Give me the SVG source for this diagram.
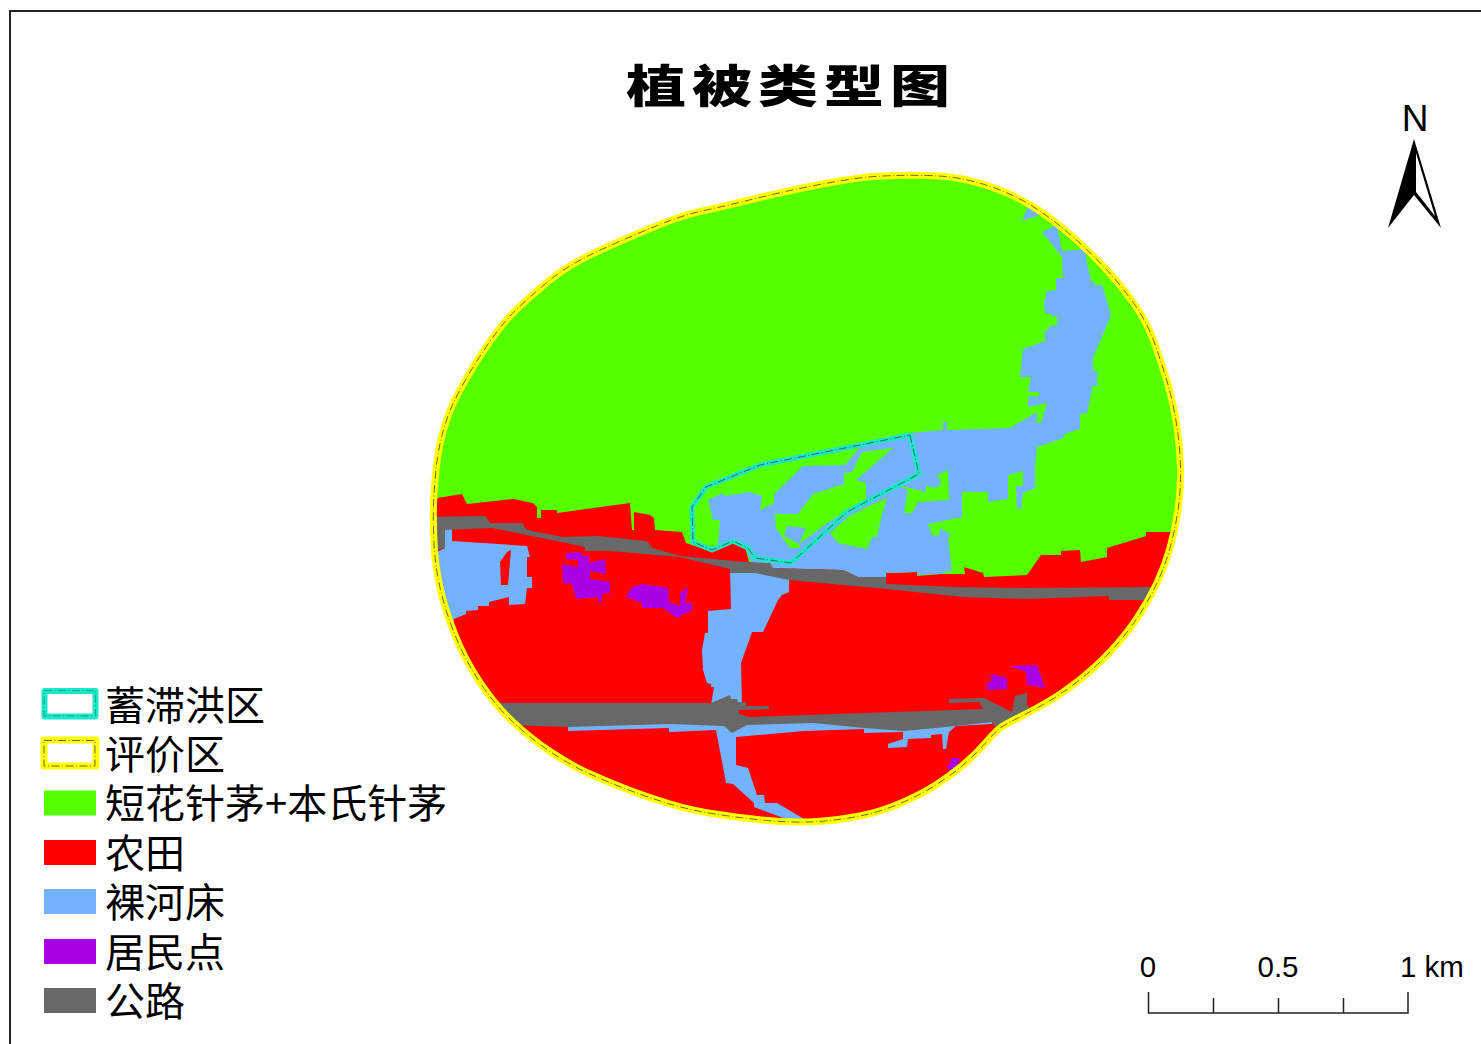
<svg xmlns="http://www.w3.org/2000/svg" width="1481" height="1044" viewBox="0 0 1481 1044">
<style>
.leg{font-family:"Noto Sans CJK SC","Noto Sans",sans-serif;font-size:40px;fill:#000}
.lat{font-family:"Liberation Sans",Arial,sans-serif;fill:#000}
.g{fill:#55ff00}.r{fill:#ff0000}.b{fill:#73b2ff}.p{fill:#a900e6}.k{fill:#686868}
.yl{fill:none;stroke:#ffff00;stroke-width:7;stroke-linejoin:round}
.cy{fill:none;stroke:#1ce8c8;stroke-width:5;stroke-linejoin:round}
.ds{fill:none;stroke:#444;stroke-width:.8;stroke-dasharray:8 2.500 1 2.500;stroke-linejoin:round}
.dl{fill:none;stroke:#0e9a84;stroke-width:.8;stroke-dasharray:8 2.500 1 2.500}
</style>
<defs>
<path id="bd" d="M882.500,176Q905,175 927.500,175.500Q950,176 967.500,180Q985,184 1002.500,191Q1020,198 1037.500,209.500Q1055,221 1072.500,236.500Q1090,252 1105,268Q1120,284 1133.500,303Q1147,322 1154.500,343Q1162,364 1167.500,383Q1173,402 1176.500,424Q1180,446 1180.500,468Q1181,490 1178,510Q1175,530 1170,548Q1165,566 1157,583Q1149,600 1137.500,617.500Q1126,635 1110.500,651.500Q1095,668 1077.500,681.500Q1060,695 1045,703.500Q1030,712 1017,718.500Q1004,725 999.500,728.500Q995,732 985,743.500Q975,755 962.500,765.500Q950,776 935,785.500Q920,795 900,803.500Q880,812 860,816Q840,820 817.500,821.500Q795,823 767.500,820.500Q740,818 715,814Q690,810 670,804Q650,798 630,790.500Q610,783 590,774Q570,765 550,751.500Q530,738 512.500,721.500Q495,705 480,682.500Q465,660 455,635Q445,610 440,587.500Q435,565 434,542.500Q433,520 433.500,505Q434,490 436,470Q438,450 442.500,433.500Q447,417 452.500,405Q458,393 467.500,376.500Q477,360 491,340Q505,320 518.500,307.500Q532,295 545,284Q558,273 571.500,265Q585,257 601.500,249.500Q618,242 638,233.500Q658,225 673,219.500Q688,214 706.500,210Q725,206 757.500,198Q790,190 825,183.500Q860,177 882.500,176Z"/>
<clipPath id="clip"><use href="#bd"/></clipPath>
</defs>
<rect width="1481" height="1044" fill="#fff"/>
<path d="M10,1044V11H1481" fill="none" stroke="#222" stroke-width="2"/>
<g id="title"><text transform="translate(626,103) scale(1,.76)" style="font-family:'Noto Sans CJK SC',sans-serif;font-size:60px;font-weight:900;letter-spacing:6px">植被类型图</text></g>
<g id="map">
<g clip-path="url(#clip)">
<use href="#bd" class="g"/>
<polygon id="red" class="r" points="425,498 437,498 462,494 467,504 513,499 533,503 537,507 537,518 541,518 541,510 557,510 557,513 630,503 632,530 634,530 634,512 650,515 654,518 655,530 682,532 686,543 712,552 732,540 745,547 749,562 886,573 917,572 917,576 940,574 965,574 964,567 983,573 984,577 1027,575 1041,555 1061,555 1061,551 1080,550 1081,562 1107,557 1107,548 1146,536 1146,532 1190,532 1190,700 1100,850 430,850"/>
<polygon id="river" class="b" points="905,437 860,447 845,465 803,466 774,494 774,503 760,510 762,496 750,492 724,496 723,493 708,500 713,520 720,520 718,545 732,541 745,547 749,558 752,562 771,568 843,570 858,577 886,577 886,573 917,572 917,575 940,574 952,570 948,538 951,535 940,528 939,536 932,535 928,524 962,517 962,492 988,492 988,502 1008,499 1008,475 1023,471 1023,486 1016,486 1017,509 1021,509 1023,493 1035,488 1035,467 1037,447 1064,438 1064,434 1080,429 1080,414 1087,413 1093,386 1097,386 1097,371 1093,370 1093,358 1111,315 1102,285 1094,285 1094,282 1091,281 1086,258 1087,249 1062,251 1057,225 1042,232 1062,257 1063,278 1056,278 1056,290 1047,291 1044,303 1045,313 1057,317 1057,325 1049,326 1049,329 1045,330 1045,341 1023,349 1020,377 1031,377 1028,392 1039,392 1039,396 1028,397 1028,407 1047,403 1041,423 1037,423 1037,412 1010,428 947,430 947,422 943,422 943,430 910,433"/>
<polygon class="b" points="1028,207 1040,215 1022,221"/>
<polygon class="g" points="862,452 893,448 856,480 866,483 866,505 850,510 830,521 799,544 800,548 790,548 776,528 775,514 798,514 813,494 844,484 844,473 852,472"/>
<polygon class="b" points="787,526 806,528 799,544 784,536"/>
<polygon class="g" points="887,498 867,507 848,517 830,533 838,543 867,549 872,537 877,537 882,514"/>
<polygon class="g" points="898,485 926,492 926,486 937,488 941,482 937,475 948,470 949,500 918,502 912,513 904,513 908,490"/>
<polygon class="b" points="425,552 437,552 445,548 445,529 452,529 452,541 527,546 530,557 527,557 527,577 532,577 532,588 527,588 525,604 509,605 509,597 489,602 489,606 478,606 478,610 466,611 466,614 454,619 452,628 425,628"/>
<polygon class="r" points="511,550 507,552 500,562 501,585 508,585"/>
<polygon class="b" points="730,570 731,609 708,611 708,633 705,633 702,650 703,670 707,683 711,684 711,687 714,687 711,705 742,705 741,663 752,632 763,632 778,600 782,595 789,592 789,578 755,570"/>
<polygon class="b" points="568,726 568,731 669,728 669,732 716,730 726,783 733,784 754,803 754,807 786,819 790,830 810,830 804,819 777,803 765,803 764,795 757,795 748,768 736,765 736,737 804,731 864,729 864,733 903,732 903,739 888,744 888,748 907,747 908,739 931,738 931,735 942,734 943,749 946,749 949,732 956,726 992,724 992,718 568,720"/>
<polygon class="k" points="425,517 485,516 490,523 522,523 527,530 562,537 597,536 647,541 652,548 680,556 745,562 770,563 773,568 843,570 858,577 886,577 886,584 953,587 1027,588 1160,587 1160,600 1109,600 1109,596 1027,599 963,597 887,589 789,580 755,573 730,573 730,569 680,557 610,551 585,551 585,547 562,542 492,528 445,530 445,548 425,553"/>
<polygon class="k" points="485,703 711,703 730,695 731,699 737,699 738,702 746,702 746,706 769,706 769,709 739,710 739,714 750,717 983,709 979,702 949,703 949,699 984,698 1012,712 1015,696 1027,693 1027,705 1040,720 1000,735 992,722 956,726 904,731 864,728 813,723 747,725 732,733 724,726 670,724 568,727 505,725"/>
<polygon class="p" points="566,553 581,552 582,556 589,556 589,563 605,559 606,574 590,571 590,579 610,582 610,593 602,594 602,602 598,602 598,597 576,599 572,584 563,583 562,564 578,567 578,560 566,559"/>
<polygon class="p" points="626,597 632,587 643,584 668,588 669,602 680,606 680,593 688,587 685,603 692,603 692,610 677,618 663,608 642,608 642,603"/>
<polygon class="p" points="1010,666 1037,665 1045,688 1027,685 1026,672"/>
<polygon class="p" points="991,674 1007,678 1007,689 987,690 987,682 991,682"/>
<polygon class="p" points="947,768 952,758 960,758 955,772"/>
</g>
<use href="#bd" class="yl"/>
<use href="#bd" class="ds"/>
<g id="xuzhihongqu">
<polygon id="res" class="cy" points="910,435 919,474 847,512 791,563 755,558 748,548 733,541 712,550 693,542 692,507 706,487 760,465"/>
<polygon class="ds" points="910,435 919,474 847,512 791,563 755,558 748,548 733,541 712,550 693,542 692,507 706,487 760,465"/>
</g>
</g>
<g id="legend">
<rect x="44.500" y="691" width="51" height="25.500" class="cy" style="stroke-width:6"/><rect x="44" y="690.500" width="51.500" height="25.500" class="dl"/>
<rect x="44" y="740" width="52" height="26" class="yl"/><rect x="44" y="740.500" width="51" height="25.500" class="ds"/>
<rect x="44" y="790.500" width="52" height="25" class="g"/>
<rect x="44" y="840" width="52" height="25" class="r"/>
<rect x="44" y="889" width="52" height="25" class="b"/>
<rect x="44" y="939" width="52" height="25" class="p"/>
<rect x="44" y="988" width="52" height="25" class="k"/>
<text x="105" y="720" class="leg">蓄滞洪区</text>
<text x="105" y="769" class="leg">评价区</text>
<text x="105" y="818" class="leg">短花针茅+本氏针茅</text>
<text x="105" y="868" class="leg">农田</text>
<text x="105" y="917" class="leg">裸河床</text>
<text x="105" y="967" class="leg">居民点</text>
<text x="105" y="1016" class="leg">公路</text>
</g>
<g id="north">
<text x="1415" y="131" text-anchor="middle" class="lat" font-size="37">N</text>
<polygon points="1414,139 1388,228 1414,195" fill="#000"/>
<polygon points="1414,139 1441,228 1414,195" fill="#000"/>
<polygon points="1416,153 1435,216 1416,192" fill="#fff"/>
</g>
<g id="scale" fill="none" stroke="#222" stroke-width="1.500">
<path d="M1148.500,992V1013H1408V992M1213.500,998V1013M1278.500,998V1013M1343.500,998V1013"/>
<g stroke="none">
<text x="1148" y="977" text-anchor="middle" class="lat" font-size="29.500">0</text>
<text x="1278" y="977" text-anchor="middle" class="lat" font-size="29.500">0.5</text>
<text x="1400" y="977" class="lat" font-size="29.500">1 km</text>
</g>
</g>
</svg>
